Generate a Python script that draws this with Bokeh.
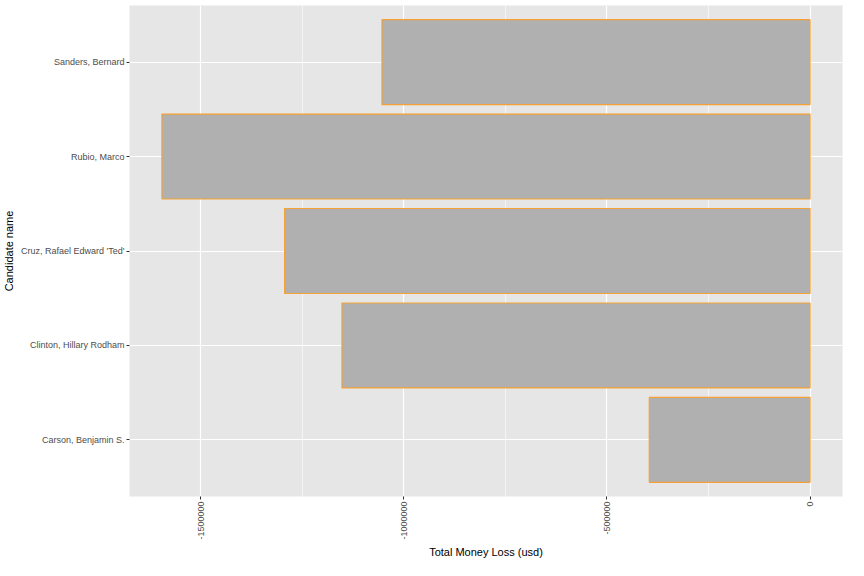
import math
from bokeh.plotting import figure
from bokeh.models import Range1d, FixedTicker, ColumnDataSource
from bokeh.embed import file_html
from bokeh.resources import INLINE

# Data (bottom to top)
candidates = ["Carson, Benjamin S.", "Clinton, Hillary Rodham",
              "Cruz, Rafael Edward 'Ted'", "Rubio, Marco", "Sanders, Bernard"]
money_loss = [-396000, -1152500, -1293800, -1595700, -1054000]
x_major_ticks = [-1500000, -1000000, -500000, 0]
x_minor_ticks = [-1250000, -750000, -250000]

ypos = list(range(1, len(candidates) + 1))
src = ColumnDataSource(dict(y=ypos, right=money_loss, left=[0] * len(ypos), name=candidates))

lo = min(money_loss + [0]); hi = max(money_loss + [0])
pad = (hi - lo) * 0.05

p = figure(width=848, height=560, output_backend="svg", toolbar_location=None,
           x_range=Range1d(lo - pad, hi + pad), y_range=Range1d(0.4, len(ypos) + 0.6),
           min_border_left=127, min_border_right=6, min_border_top=5, min_border_bottom=63)

p.hbar(y="y", left="left", right="right", height=0.9, source=src,
       fill_color="#B0B0B0", line_color="#F5A135", line_width=1.1)

p.background_fill_color = "#E6E6E6"
p.border_fill_color = "white"
p.outline_line_color = None

# grids
p.xgrid.ticker = FixedTicker(ticks=x_major_ticks, minor_ticks=x_minor_ticks)
p.xgrid.grid_line_color = "white"
p.xgrid.grid_line_width = 1.2
p.xgrid.minor_grid_line_color = "white"
p.xgrid.minor_grid_line_width = 0.6
p.ygrid.ticker = FixedTicker(ticks=ypos)
p.ygrid.grid_line_color = "white"
p.ygrid.grid_line_width = 1.2

# axes
p.xaxis.ticker = FixedTicker(ticks=x_major_ticks, minor_ticks=[])
p.xaxis.major_label_overrides = {t: str(t) for t in x_major_ticks}
p.xaxis.major_label_orientation = math.pi / 2
p.yaxis.ticker = FixedTicker(ticks=ypos, minor_ticks=[])
p.yaxis.major_label_overrides = {y: n for y, n in zip(ypos, candidates)}

for ax in (p.xaxis, p.yaxis):
    ax.axis_line_color = None
    ax.major_tick_line_color = "#333333"
    ax.major_tick_in = 0
    ax.major_tick_out = 3
    ax.minor_tick_line_color = None
    ax.major_label_text_font = "Liberation Sans"
    ax.major_label_text_font_size = "9px"
    ax.major_label_text_color = "#4D4D4D"
    ax.major_label_standoff = 2
    ax.axis_label_text_font = "Liberation Sans"
    ax.axis_label_text_font_size = "11px"
    ax.axis_label_text_font_style = "normal"
    ax.axis_label_text_color = "black"

p.xaxis.axis_label = "Total Money Loss (usd)"
p.yaxis.axis_label = "Candidate name"
p.xaxis.axis_label_standoff = 3
p.yaxis.axis_label_standoff = 3

open("out.html", "w").write(file_html(p, INLINE))
